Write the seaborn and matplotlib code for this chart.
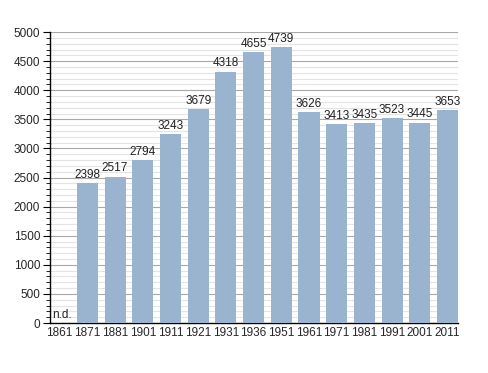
import matplotlib
matplotlib.use("Agg")
import matplotlib.pyplot as plt
import seaborn as sns
import pandas as pd
import numpy as np
from matplotlib.ticker import MultipleLocator

years = ["1861", "1871", "1881", "1901", "1911", "1921", "1931", "1936", "1951",
         "1961", "1971", "1981", "1991", "2001", "2011"]
population = [0, 2398, 2517, 2794, 3243, 3679, 4318, 4655, 4739,
              3626, 3413, 3435, 3523, 3445, 3653]
labels = ["n.d.", "2398", "2517", "2794", "3243", "3679", "4318", "4655", "4739",
          "3626", "3413", "3435", "3523", "3445", "3653"]

sns.set_theme(style="white")
plt.rcParams['font.family'] = ['Liberation Sans', 'DejaVu Sans']

df = pd.DataFrame({"year": years, "pop": population})

fig = plt.figure(figsize=(4.88, 3.73), dpi=100)
ax = fig.add_axes([0.1025, 0.134, 0.836, 0.780])

sns.barplot(data=df, x="year", y="pop", color="#9ab3cf", saturation=1,
            width=0.76, ax=ax, zorder=3, edgecolor="none", linewidth=0)

ax.set_ylim(0, 5000)
ax.set_xlim(-0.35, len(years) - 1 + 0.38)
ax.yaxis.set_major_locator(MultipleLocator(500))
ax.yaxis.set_minor_locator(MultipleLocator(100))
ax.grid(which="major", axis="y", color="#a8a8a8", linewidth=0.8, zorder=0)
ax.grid(which="minor", axis="y", color="#e4e4e4", linewidth=0.8, zorder=0)
ax.set_axisbelow(True)

for s in ["top", "right"]:
    ax.spines[s].set_visible(False)
for s in ["left", "bottom"]:
    ax.spines[s].set_visible(True)
    ax.spines[s].set_color("black")
    ax.spines[s].set_linewidth(1.0)

ax.tick_params(axis="y", which="major", left=True, length=5, width=0.8,
               color="black", labelsize=8.5, pad=2)
ax.tick_params(axis="y", which="minor", left=True, length=3, width=0.6, color="black")
ax.tick_params(axis="x", bottom=False, length=0, labelsize=8.5, pad=3)
ax.set_xlabel("")
ax.set_ylabel("")

for i, (v, lab) in enumerate(zip(population, labels)):
    if lab == "n.d.":
        ax.text(i - 0.28, 40, lab, ha="left", va="bottom", fontsize=8.5, color="#222222")
    else:
        ax.text(i, v + 40, lab, ha="center", va="bottom", fontsize=8.5, color="#222222")

fig.savefig("out.png", dpi=100)
